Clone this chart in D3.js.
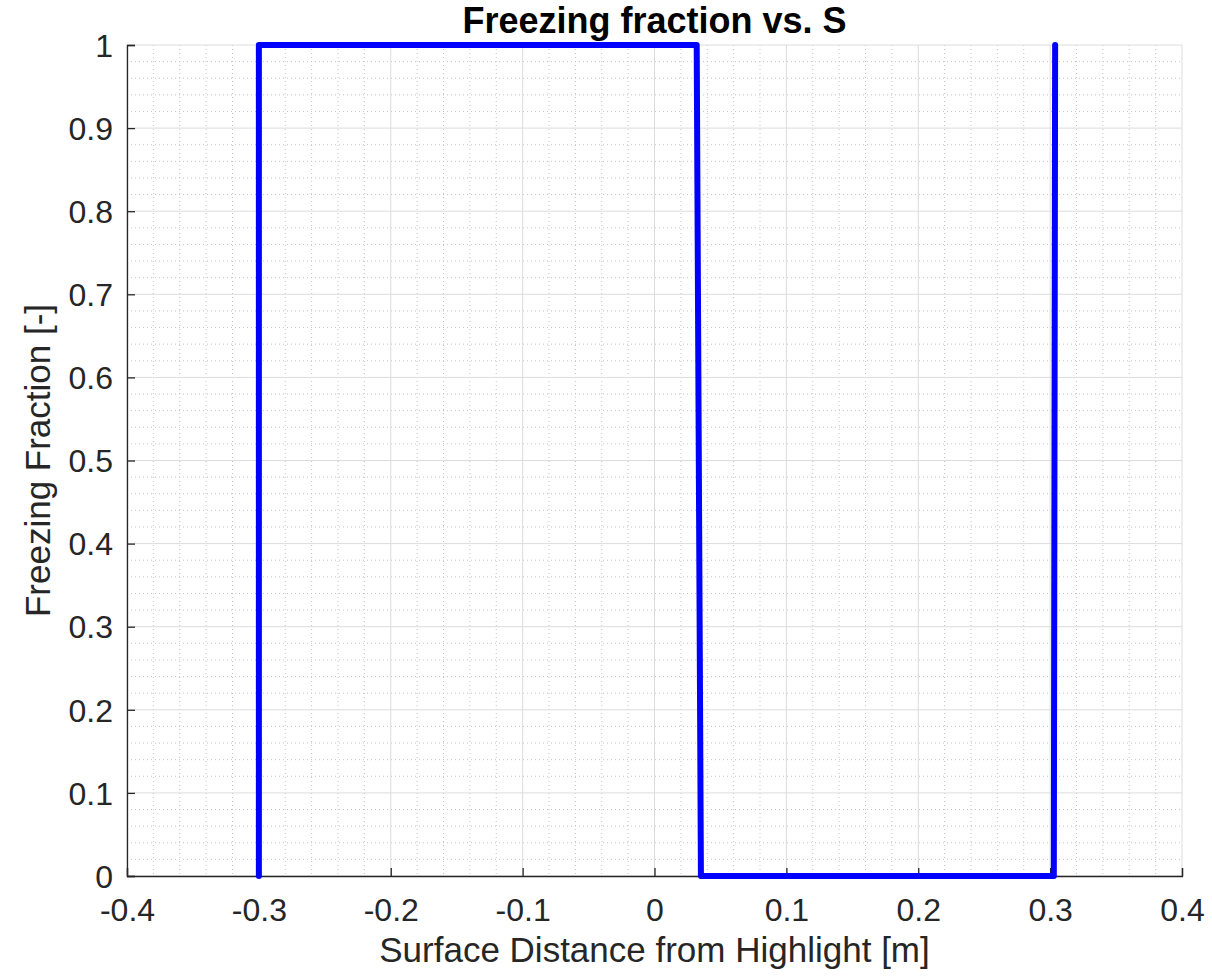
<!DOCTYPE html>
<html>
<head>
<meta charset="utf-8">
<script src="https://cdn.jsdelivr.net/npm/d3@7"></script>
<style>
  body { margin: 0; background: #fff; }
  text { font-family: "Liberation Sans", Arial, Helvetica, sans-serif; fill: #262626; }
</style>
</head>
<body>
<div id="chart"></div>
<script>
let width = 1212, height = 979
let margin = { top: 45, right: 30, bottom: 103, left: 127 }
let plotW = width - margin.left - margin.right
let plotH = height - margin.top - margin.bottom

// DATA
let sValues = [-0.3, -0.3, 0.032, 0.0352, 0.3028, 0.3038]
let fractionValues = [0, 1, 1, 0, 0, 1]
let xTicks = [-0.4, -0.3, -0.2, -0.1, 0, 0.1, 0.2, 0.3, 0.4]
let yTicks = [0, 0.1, 0.2, 0.3, 0.4, 0.5, 0.6, 0.7, 0.8, 0.9, 1]

let points = sValues.map((s, i) => ({ s: s, f: fractionValues[i] }))

let x = d3.scaleLinear().domain([-0.4, 0.4]).range([0, plotW])
let y = d3.scaleLinear().domain([0, 1]).range([plotH, 0])

// plain hyphen for negatives, like the original
let fmt = d => {
  if (d === 0) return '0'
  if (d === 1) return '1'
  return d3.format('.1f')(d).replace('\u2212', '-')
}

let svg = d3.select('#chart')
  .append('svg')
  .attr('width', width)
  .attr('height', height)

let g = svg.append('g')
  .attr('transform', 'translate(' + margin.left + ',' + margin.top + ')')

// MINOR GRID
let xMinor = d3.range(-0.4, 0.4001, 0.02).filter(v => Math.abs(Math.round(v * 10) - v * 10) > 1e-6)
let yMinor = d3.range(0, 1.0001, 0.02).filter(v => Math.abs(Math.round(v * 10) - v * 10) > 1e-6)

g.append('g').selectAll('line')
  .data(xMinor)
  .enter().append('line')
    .attr('x1', d => x(d)).attr('x2', d => x(d))
    .attr('y1', 0).attr('y2', plotH)
    .attr('stroke', '#c4c4c4')
    .attr('stroke-width', 1)
    .attr('stroke-dasharray', '1,3')

g.append('g').selectAll('line')
  .data(yMinor)
  .enter().append('line')
    .attr('x1', 0).attr('x2', plotW)
    .attr('y1', d => y(d)).attr('y2', d => y(d))
    .attr('stroke', '#c4c4c4')
    .attr('stroke-width', 1)
    .attr('stroke-dasharray', '1,3')

// MAJOR GRID
g.append('g').selectAll('line')
  .data(xTicks)
  .enter().append('line')
    .attr('x1', d => x(d)).attr('x2', d => x(d))
    .attr('y1', 0).attr('y2', plotH)
    .attr('stroke', '#dcdcdc')
    .attr('stroke-width', 1)

g.append('g').selectAll('line')
  .data(yTicks)
  .enter().append('line')
    .attr('x1', 0).attr('x2', plotW)
    .attr('y1', d => y(d)).attr('y2', d => y(d))
    .attr('stroke', '#dcdcdc')
    .attr('stroke-width', 1)

// AXES
let xAxis = g.append('g')
  .attr('transform', 'translate(0,' + plotH + ')')
  .call(d3.axisBottom(x).tickValues(xTicks).tickSize(-8).tickPadding(22).tickFormat(fmt))

let yAxis = g.append('g')
  .call(d3.axisLeft(y).tickValues(yTicks).tickSize(-8).tickPadding(14).tickFormat(fmt))

;[xAxis, yAxis].forEach(a => {
  a.select('.domain').attr('stroke', '#262626').attr('stroke-width', 1.3)
  a.selectAll('.tick line').attr('stroke', '#262626').attr('stroke-width', 1.3)
  a.selectAll('.tick text')
    .style('font-size', '32px')
    .style('font-family', '"Liberation Sans", Arial, sans-serif')
    .attr('fill', '#262626')
})
xAxis.selectAll('.tick text').attr('dy', '0.71em')
yAxis.selectAll('.tick text').attr('dy', '0.35em')

// LINE
let line = d3.line()
  .x(d => x(d.s))
  .y(d => y(d.f))

g.append('path')
  .datum(points)
  .attr('d', line)
  .attr('fill', 'none')
  .attr('stroke', '#0000ff')
  .attr('stroke-width', 6)
  .attr('stroke-linejoin', 'round')
  .attr('stroke-linecap', 'round')

// TITLES
svg.append('text')
  .attr('x', margin.left + plotW / 2)
  .attr('y', 33)
  .attr('text-anchor', 'middle')
  .style('font-size', '36px')
  .style('font-weight', 'bold')
  .style('fill', '#000')
  .text('Freezing fraction vs. S')

svg.append('text')
  .attr('x', margin.left + plotW / 2)
  .attr('y', 962)
  .attr('text-anchor', 'middle')
  .style('font-size', '35px')
  .text('Surface Distance from Highlight [m]')

svg.append('text')
  .attr('transform', 'translate(50,' + (margin.top + plotH / 2) + ') rotate(-90)')
  .attr('text-anchor', 'middle')
  .style('font-size', '35px')
  .text('Freezing Fraction [-]')
</script>
</body>
</html>
